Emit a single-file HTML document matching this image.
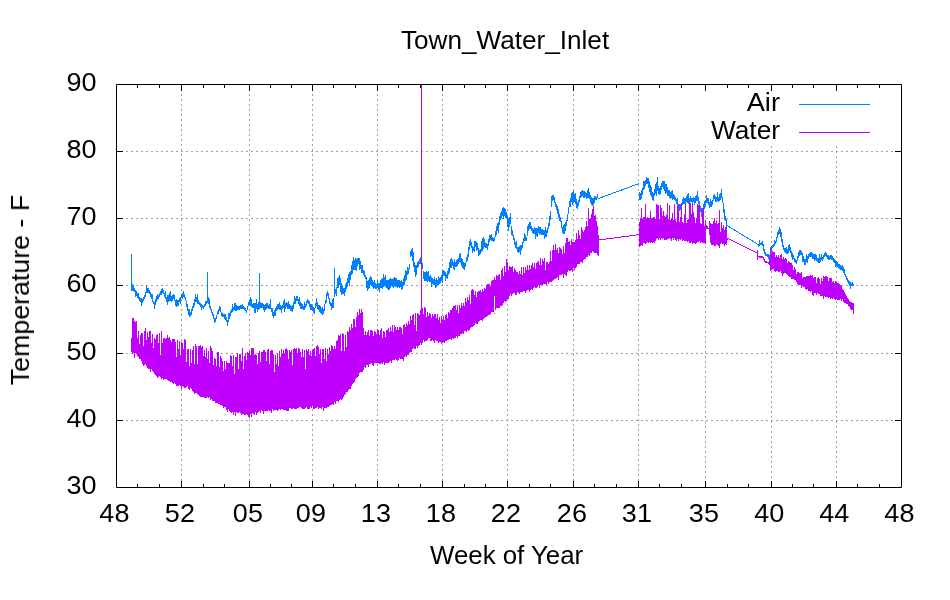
<!DOCTYPE html>
<html><head><meta charset="utf-8"><title>Town_Water_Inlet</title>
<style>
html,body{margin:0;padding:0;background:#fff;width:950px;height:600px;overflow:hidden}
svg{display:block}
text{font-family:"Liberation Sans",sans-serif;fill:#000}
</style></head><body>
<svg width="950" height="600" viewBox="0 0 950 600">
<rect width="950" height="600" fill="#fff"/>
<!-- grid -->
<g stroke="#a0a0a0" stroke-width="1" stroke-dasharray="2 3" fill="none">
<path d="M116 151.5H901M116 218.5H901M116 285.5H901M116 353.5H901M116 420.5H901"/>
<path d="M181.5 486V84M249.5 486V84M312.5 486V84M377.5 486V84M442.5 486V84M507.5 486V84M573.5 486V84M638.5 486V84M705.5 146V487M771.5 146V487M836.5 146V487"/>
</g>
<!-- DATA -->
<g id="data" fill="none" stroke-width="1">
<path stroke="#0080ff" shape-rendering="crispEdges" d="M131.5 282.6V291.1M132.5 284.2V290.6M133.5 284.8V291.0M134.5 288.4V292.4M135.5 289.6V296.5M136.5 290.9V295.6M137.5 292.9V298.1M138.5 292.6V299.0M139.5 296.5V300.8M140.5 297.9V302.3M141.5 298.1V306.3M142.5 298.5V303.1M143.5 296.8V301.3M144.5 295.1V299.4M145.5 292.4V296.5M146.5 284.8V292.9M147.5 287.6V293.0M148.5 287.9V292.5M149.5 289.6V293.5M150.5 291.9V296.7M151.5 294.4V299.4M152.5 294.4V302.2M153.5 300.5V304.4M154.5 302.2V309.4M155.5 299.0V304.7M156.5 296.1V301.5M157.5 294.3V300.2M158.5 294.9V298.7M159.5 293.3V297.4M160.5 290.7V294.7M161.5 288.5V294.5M162.5 288.4V293.2M163.5 289.6V294.1M164.5 293.2V296.8M165.5 291.2V298.9M166.5 297.4V301.8M167.5 295.3V305.2M168.5 294.6V302.0M169.5 292.6V301.4M170.5 290.6V300.9M171.5 295.8V301.9M172.5 294.6V300.5M173.5 294.3V298.5M174.5 295.3V300.9M175.5 299.9V306.2M176.5 298.6V306.5M177.5 299.9V305.8M178.5 299.9V306.3M179.5 297.8V302.2M180.5 296.5V303.8M181.5 294.7V298.1M182.5 293.2V299.3M183.5 291.3V297.0M184.5 294.0V298.3M185.5 297.0V300.8M186.5 301.1V306.6M187.5 304.3V310.6M188.5 309.4V314.5M189.5 308.9V316.8M190.5 312.3V316.4M191.5 308.8V314.6M192.5 305.6V310.8M193.5 302.7V308.3M194.5 299.1V305.6M195.5 294.3V302.2M196.5 297.1V302.0M197.5 294.3V303.5M198.5 300.3V304.1M199.5 302.0V305.2M200.5 303.2V307.0M201.5 303.9V309.6M202.5 304.6V308.1M203.5 305.5V308.6M204.5 304.1V307.0M205.5 300.8V305.9M206.5 300.5V304.3M207.5 298.3V303.4M208.5 296.6V303.5M209.5 298.9V308.1M210.5 306.1V310.2M211.5 308.8V312.6M212.5 311.8V315.7M213.5 314.4V318.8M214.5 317.5V323.2M215.5 317.6V321.7M216.5 315.4V319.1M217.5 311.1V315.0M218.5 309.0V313.9M219.5 306.3V310.7M220.5 307.2V312.3M221.5 312.3V316.4M222.5 313.3V316.5M223.5 313.8V317.2M224.5 313.5V318.7M225.5 314.1V320.1M226.5 316.6V322.3M227.5 320.2V326.2M228.5 313.2V321.6M229.5 312.6V318.5M230.5 311.0V315.8M231.5 309.1V312.8M232.5 303.8V311.9M233.5 306.5V310.8M234.5 303.4V310.4M235.5 302.8V310.6M236.5 305.4V310.6M237.5 305.7V310.4M238.5 305.6V310.2M239.5 305.5V309.8M240.5 305.2V309.1M241.5 305.1V309.0M242.5 303.6V309.0M243.5 305.6V308.9M244.5 307.0V309.8M245.5 308.2V310.7M246.5 309.7V313.3M247.5 305.7V309.8M248.5 301.9V306.4M249.5 300.0V305.4M250.5 296.6V305.8M251.5 298.6V307.1M252.5 303.6V307.5M253.5 303.0V308.4M254.5 302.9V312.6M255.5 303.1V312.7M256.5 298.9V308.7M257.5 304.0V311.9M258.5 302.4V309.8M259.5 301.4V309.3M260.5 301.7V308.4M261.5 302.5V307.8M262.5 302.5V307.6M263.5 303.9V309.5M264.5 304.8V311.6M265.5 304.3V309.9M266.5 302.9V309.3M267.5 303.1V308.2M268.5 304.7V308.7M269.5 303.8V309.4M270.5 298.6V308.8M271.5 307.5V312.3M272.5 307.7V316.2M273.5 312.2V318.0M274.5 309.9V315.7M275.5 308.1V316.2M276.5 306.1V310.8M277.5 304.0V309.5M278.5 304.2V309.0M279.5 301.6V309.9M280.5 304.5V309.8M281.5 305.7V312.9M282.5 304.6V309.2M283.5 300.6V308.3M284.5 299.3V312.1M285.5 303.1V308.6M286.5 302.1V307.1M287.5 302.7V309.2M288.5 301.0V308.7M289.5 303.6V309.0M290.5 305.1V310.8M291.5 305.8V311.4M292.5 305.0V311.7M293.5 301.5V308.9M294.5 296.0V304.2M295.5 297.6V303.7M296.5 295.5V300.7M297.5 295.5V301.2M298.5 299.4V303.9M299.5 297.2V306.3M300.5 301.5V308.8M301.5 302.8V308.6M302.5 304.4V308.7M303.5 305.8V310.1M304.5 302.4V309.9M305.5 303.5V307.5M306.5 301.3V306.3M307.5 298.7V303.4M308.5 299.6V304.4M309.5 301.3V306.8M310.5 303.7V310.2M311.5 304.4V309.6M312.5 305.5V310.6M313.5 306.8V313.0M314.5 307.5V313.6M315.5 302.7V308.1M316.5 297.6V305.5M317.5 302.4V308.5M318.5 304.6V309.7M319.5 305.0V311.8M320.5 305.6V312.5M321.5 308.0V314.3M322.5 307.2V315.4M323.5 308.6V313.8M324.5 304.3V310.5M325.5 299.5V304.1M326.5 292.8V303.2M327.5 290.8V296.1M328.5 293.1V298.7M329.5 298.4V303.9M330.5 301.9V305.6M331.5 303.3V309.7M332.5 299.2V308.3M333.5 298.2V308.4M334.5 287.4V297.1M335.5 288.7V294.0M336.5 286.8V296.4M337.5 277.6V287.9M338.5 276.9V287.8M339.5 274.9V284.9M340.5 277.7V292.1M341.5 283.1V295.1M342.5 286.1V293.9M343.5 288.4V293.7M344.5 288.1V296.0M345.5 283.5V291.8M346.5 281.7V289.3M347.5 277.8V287.2M348.5 274.0V283.0M349.5 272.3V286.1M350.5 270.5V279.8M351.5 264.6V275.1M352.5 260.9V273.5M353.5 256.6V270.0M354.5 260.4V269.6M355.5 258.3V269.9M356.5 259.1V270.6M357.5 257.6V265.8M358.5 258.1V263.8M359.5 257.5V269.8M360.5 261.0V268.5M361.5 265.2V273.0M362.5 264.8V273.2M363.5 270.4V274.9M364.5 271.0V277.4M365.5 274.6V279.2M366.5 276.8V287.6M367.5 280.7V290.8M368.5 280.2V288.7M369.5 278.1V287.6M370.5 276.0V284.8M371.5 277.4V286.4M372.5 280.0V287.3M373.5 281.9V289.0M374.5 279.7V287.8M375.5 282.5V289.1M376.5 284.1V288.7M377.5 280.2V288.2M378.5 282.7V289.5M379.5 282.6V291.9M380.5 280.0V288.4M381.5 278.6V288.0M382.5 278.2V289.2M383.5 274.2V286.5M384.5 277.4V286.0M385.5 275.0V287.0M386.5 280.0V288.3M387.5 279.7V288.8M388.5 280.0V289.5M389.5 279.4V289.6M390.5 277.5V288.2M391.5 279.2V286.0M392.5 278.7V287.0M393.5 278.3V288.1M394.5 277.1V285.8M395.5 278.4V287.2M396.5 278.3V286.7M397.5 279.6V287.8M398.5 279.8V286.9M399.5 280.4V288.0M400.5 281.0V287.2M401.5 279.9V290.0M402.5 282.2V289.2M403.5 278.2V285.7M404.5 274.7V285.0M405.5 270.3V281.1M406.5 270.5V280.0M407.5 267.1V275.1M408.5 267.5V273.9M409.5 264.2V269.1M410.5 250.8V257.2M411.5 249.4V255.6M412.5 247.7V261.1M413.5 252.1V266.6M414.5 262.3V271.6M415.5 264.5V276.7M416.5 265.4V275.2M417.5 261.9V268.4M418.5 260.8V266.7M419.5 259.0V264.4M420.5 257.3V263.7M421.5 253.5V265.4M422.5 263.0V269.0M423.5 270.5V278.7M424.5 272.2V281.1M425.5 272.3V280.7M426.5 270.6V281.3M427.5 271.6V281.7M428.5 270.8V281.0M429.5 276.3V281.6M430.5 275.0V282.0M431.5 277.1V286.8M432.5 278.0V284.4M433.5 278.7V285.2M434.5 276.7V285.2M435.5 279.5V288.4M436.5 278.4V286.7M437.5 279.8V284.5M438.5 275.6V285.1M439.5 277.6V284.4M440.5 276.8V282.6M441.5 275.3V280.8M442.5 270.9V282.6M443.5 270.1V275.7M444.5 270.8V276.0M445.5 272.2V280.9M446.5 274.2V278.0M447.5 271.1V278.7M448.5 267.8V274.9M449.5 261.7V272.6M450.5 258.9V268.3M451.5 258.0V267.5M452.5 259.7V265.7M453.5 262.1V269.3M454.5 259.1V270.2M455.5 261.8V267.0M456.5 259.9V266.7M457.5 259.4V265.9M458.5 258.2V264.0M459.5 253.8V261.5M460.5 252.9V263.0M461.5 257.5V265.8M462.5 258.8V267.5M463.5 262.0V268.6M464.5 262.9V269.7M465.5 261.7V267.1M466.5 256.6V262.3M467.5 254.2V260.6M468.5 247.2V256.9M469.5 240.9V249.5M470.5 239.1V245.6M471.5 241.9V247.6M472.5 245.8V252.6M473.5 247.0V251.4M474.5 240.9V252.3M475.5 241.4V246.5M476.5 241.8V251.3M477.5 243.2V250.2M478.5 248.1V255.5M479.5 250.2V255.2M480.5 249.2V254.2M481.5 240.5V251.8M482.5 238.4V250.9M483.5 237.0V248.7M484.5 238.7V246.6M485.5 242.5V248.1M486.5 243.0V248.1M487.5 244.0V250.1M488.5 238.9V246.2M489.5 234.7V242.3M490.5 234.6V239.5M491.5 233.8V240.5M492.5 236.5V241.1M493.5 237.5V242.3M494.5 236.9V241.0M495.5 231.0V237.1M496.5 225.7V234.9M497.5 223.2V231.2M498.5 221.7V232.9M499.5 216.0V225.2M500.5 213.2V219.9M501.5 211.2V217.6M502.5 207.8V216.0M503.5 206.8V219.3M504.5 207.7V216.1M505.5 209.4V217.5M506.5 211.6V218.4M507.5 216.0V226.5M508.5 217.9V231.1M509.5 216.8V227.3M510.5 212.6V223.7M511.5 225.5V235.1M512.5 230.1V236.2M513.5 234.9V240.4M514.5 238.2V244.5M515.5 241.5V248.1M516.5 241.2V249.0M517.5 246.5V252.0M518.5 247.3V253.0M519.5 246.2V252.2M520.5 245.1V255.3M521.5 244.6V250.2M522.5 241.8V247.8M523.5 237.7V243.4M524.5 233.1V241.1M525.5 235.3V241.3M526.5 236.7V240.6M527.5 226.4V235.6M528.5 223.8V231.0M529.5 222.1V229.4M530.5 222.0V229.1M531.5 225.9V230.7M532.5 228.3V232.9M533.5 228.5V234.2M534.5 227.0V234.0M535.5 228.2V238.6M536.5 228.1V235.9M537.5 228.4V236.8M538.5 225.9V232.8M539.5 226.8V234.9M540.5 226.6V234.1M541.5 228.7V234.7M542.5 228.8V234.7M543.5 229.7V234.8M544.5 230.4V239.4M545.5 227.1V237.3M546.5 230.1V237.4M547.5 228.1V233.2M548.5 223.3V228.7M549.5 215.6V226.0M550.5 210.6V220.3M551.5 196.1V207.3M552.5 194.7V200.6M553.5 194.6V200.2M554.5 197.3V202.6M555.5 201.8V206.7M556.5 204.4V210.2M557.5 206.3V214.1M558.5 209.3V217.8M559.5 213.7V220.6M560.5 216.8V222.4M561.5 220.9V228.0M562.5 226.9V232.6M563.5 225.4V233.6M564.5 223.5V234.1M565.5 221.7V230.9M566.5 219.5V226.1M567.5 213.9V220.9M568.5 207.0V214.3M569.5 200.9V207.4M570.5 197.8V207.1M571.5 193.1V202.2M572.5 192.3V204.8M573.5 189.5V202.6M574.5 194.4V202.0M575.5 192.6V204.2M576.5 198.6V207.7M577.5 201.5V209.2M578.5 200.2V205.9M579.5 195.5V202.0M580.5 192.2V197.9M581.5 191.0V197.4M582.5 189.6V196.3M583.5 190.8V197.9M584.5 191.3V198.2M585.5 191.9V197.4M586.5 192.5V198.8M587.5 190.1V198.3M588.5 188.1V197.9M589.5 191.9V198.8M590.5 195.0V203.1M591.5 197.4V204.5M592.5 198.4V206.3M593.5 197.9V205.4M594.5 195.5V202.7M595.5 195.6V200.3M596.5 196.6V199.6M597.5 194.3V198.1M598.5 198.1V199.1M638.5 182.7V183.9M639.5 192.1V199.9M640.5 192.6V200.1M641.5 190.4V199.2M642.5 187.7V194.6M643.5 181.3V189.8M644.5 180.9V188.6M645.5 180.4V186.0M646.5 176.5V183.9M647.5 177.8V183.8M648.5 178.4V188.4M649.5 180.5V192.1M650.5 185.1V195.2M651.5 187.3V196.6M652.5 192.2V200.0M653.5 192.8V200.7M654.5 189.0V196.1M655.5 184.3V193.5M656.5 182.2V195.7M657.5 177.2V191.1M658.5 186.1V194.0M659.5 187.5V195.2M660.5 186.0V193.9M661.5 183.3V189.6M662.5 180.6V187.1M663.5 180.6V189.1M664.5 180.7V191.3M665.5 183.9V194.2M666.5 183.8V192.7M667.5 187.4V195.6M668.5 189.7V196.1M669.5 190.2V198.0M670.5 192.3V198.7M671.5 191.4V198.3M672.5 190.0V199.5M673.5 194.3V199.1M674.5 194.6V200.1M675.5 196.7V201.4M676.5 198.7V203.5M677.5 198.4V208.1M678.5 204.0V212.3M679.5 204.2V210.5M680.5 203.6V210.2M681.5 203.2V207.8M682.5 199.3V204.8M683.5 197.3V203.6M684.5 197.9V203.7M685.5 197.9V205.6M686.5 196.1V202.4M687.5 193.7V202.5M688.5 192.6V203.8M689.5 198.4V204.8M690.5 196.0V202.3M691.5 198.2V202.3M692.5 197.6V203.2M693.5 196.6V201.7M694.5 197.5V205.1M695.5 195.8V203.4M696.5 195.4V201.2M697.5 190.6V201.0M698.5 197.2V203.7M699.5 201.1V207.3M700.5 205.9V212.0M701.5 207.9V217.2M702.5 208.1V218.1M703.5 204.2V211.1M704.5 201.1V208.7M705.5 199.5V206.1M706.5 195.3V203.1M707.5 197.8V203.3M708.5 197.7V205.2M709.5 201.7V207.7M710.5 199.0V206.6M711.5 200.5V206.8M712.5 200.1V204.9M713.5 195.3V201.4M714.5 194.0V199.1M715.5 195.9V201.8M716.5 196.7V202.3M717.5 192.3V201.2M718.5 196.6V202.3M719.5 193.9V201.1M720.5 193.1V200.4M721.5 189.2V198.3M722.5 196.8V203.1M723.5 202.8V213.3M724.5 209.0V220.0M725.5 215.8V220.8M726.5 219.4V228.9M757.5 243.8V244.8M758.5 244.1V246.7M759.5 239.8V246.4M760.5 243.0V245.4M761.5 241.8V245.1M762.5 241.1V246.1M763.5 244.4V250.6M764.5 249.4V253.8M765.5 252.3V255.5M766.5 253.6V256.2M767.5 254.0V257.3M768.5 254.4V258.8M769.5 255.2V260.3M770.5 246.6V255.6M771.5 245.9V252.1M772.5 244.5V248.0M773.5 243.6V247.2M774.5 239.7V245.8M775.5 241.2V244.2M776.5 236.6V242.4M777.5 232.3V238.1M778.5 229.6V235.1M779.5 227.4V233.8M780.5 229.2V236.6M781.5 231.6V241.5M782.5 239.3V246.5M783.5 245.2V250.3M784.5 247.6V252.0M785.5 248.0V253.2M786.5 247.1V253.5M787.5 248.8V253.8M788.5 244.9V252.5M789.5 244.3V251.1M790.5 246.6V253.3M791.5 250.5V256.9M792.5 252.7V259.7M793.5 255.0V259.2M794.5 258.0V261.5M795.5 258.7V263.4M796.5 259.7V263.7M797.5 256.1V261.1M798.5 252.4V258.0M799.5 250.4V255.8M800.5 250.4V254.8M801.5 250.9V255.3M802.5 252.9V261.9M803.5 256.2V261.8M804.5 258.7V264.6M805.5 259.0V264.7M806.5 254.3V262.3M807.5 256.3V262.6M808.5 253.7V258.9M809.5 253.4V257.0M810.5 252.4V257.2M811.5 252.3V257.3M812.5 252.6V258.9M813.5 253.9V259.3M814.5 254.0V260.8M815.5 254.1V260.3M816.5 254.8V261.3M817.5 257.6V262.2M818.5 257.7V262.5M819.5 254.3V263.0M820.5 256.8V262.1M821.5 254.0V260.2M822.5 256.7V261.3M823.5 254.7V258.5M824.5 253.2V256.8M825.5 251.6V255.5M826.5 252.5V257.3M827.5 254.7V259.4M828.5 255.2V259.7M829.5 256.4V260.1M830.5 255.3V259.3M831.5 255.3V259.6M832.5 256.2V260.2M833.5 257.9V262.2M834.5 258.8V263.0M835.5 260.1V266.7M836.5 260.7V266.4M837.5 261.6V266.9M838.5 263.6V268.0M839.5 263.7V268.8M840.5 264.5V269.8M841.5 265.7V269.9M842.5 265.1V271.2M843.5 266.5V273.0M844.5 269.2V274.8M845.5 273.5V277.1M846.5 275.6V280.4M847.5 278.3V282.4M848.5 280.3V284.4M849.5 281.0V285.5M850.5 281.9V288.9M851.5 282.5V286.2M852.5 282.4V285.7M853.5 284.3V285.6M598.4 198.5L638.7 183.7M726.7 225.3L757.3 244.0M131.5 254.3V283.0M207.5 272.3V300.0M259.5 273.0V305.0M334.5 268.0V290.0"/>
<path stroke="#c000ff" shape-rendering="crispEdges" d="M131.5 338.4V352.3M132.5 317.7V353.5M133.5 317.7V352.5M134.5 321.0V358.0M135.5 321.9V353.0M136.5 320.9V354.0M137.5 337.6V355.5M138.5 330.5V356.9M139.5 344.2V359.0M140.5 335.4V358.9M141.5 333.1V360.7M142.5 333.2V364.0M143.5 346.3V365.7M144.5 330.5V365.2M145.5 328.4V364.0M146.5 339.8V366.4M147.5 332.1V368.4M148.5 337.1V368.9M149.5 331.3V368.7M150.5 331.0V371.9M151.5 342.9V369.4M152.5 333.9V371.3M153.5 347.5V371.7M154.5 338.0V373.7M155.5 339.1V374.8M156.5 335.3V376.1M157.5 334.0V377.7M158.5 343.1V376.7M159.5 332.9V375.9M160.5 354.5V377.0M161.5 330.7V378.8M162.5 342.7V377.7M163.5 338.0V380.1M164.5 337.9V378.9M165.5 338.7V378.8M166.5 337.7V379.0M167.5 335.1V379.9M168.5 338.3V380.6M169.5 337.4V381.3M170.5 340.4V381.7M171.5 342.1V381.5M172.5 339.0V383.2M173.5 339.0V383.6M174.5 339.1V382.6M175.5 341.8V384.1M176.5 357.2V385.7M177.5 340.4V385.6M178.5 349.1V385.5M179.5 340.7V385.1M180.5 355.2V385.5M181.5 342.4V388.8M182.5 343.2V386.3M183.5 348.8V387.1M184.5 338.7V388.0M185.5 339.6V388.1M186.5 362.1V387.4M187.5 348.8V385.8M188.5 349.3V388.8M189.5 365.5V389.8M190.5 349.3V388.4M191.5 363.1V389.1M192.5 350.3V390.6M193.5 346.1V392.3M194.5 364.1V393.8M195.5 343.9V393.4M196.5 346.2V393.4M197.5 363.5V394.0M198.5 345.7V395.2M199.5 346.1V395.5M200.5 345.2V396.5M201.5 346.9V396.5M202.5 345.6V396.7M203.5 356.4V397.3M204.5 349.7V398.0M205.5 357.3V398.0M206.5 347.9V397.6M207.5 359.4V396.9M208.5 351.2V398.3M209.5 362.7V397.4M210.5 346.1V399.8M211.5 348.3V398.5M212.5 351.4V401.1M213.5 364.9V401.4M214.5 358.4V400.6M215.5 358.9V403.1M216.5 365.6V402.6M217.5 352.1V402.5M218.5 352.4V404.0M219.5 366.9V403.6M220.5 356.4V405.0M221.5 358.3V405.2M222.5 360.9V406.3M223.5 370.9V408.2M224.5 361.1V407.1M225.5 369.1V407.3M226.5 361.3V410.0M227.5 363.1V411.5M228.5 362.5V408.7M229.5 362.6V410.7M230.5 354.8V412.4M231.5 356.3V413.4M232.5 366.0V411.8M233.5 355.3V415.3M234.5 373.7V411.7M235.5 356.7V415.9M236.5 357.0V412.3M237.5 353.4V413.2M238.5 369.0V412.7M239.5 354.2V412.4M240.5 353.9V413.0M241.5 361.0V414.5M242.5 348.4V413.8M243.5 368.6V413.6M244.5 355.5V414.8M245.5 353.2V414.8M246.5 359.7V414.3M247.5 352.1V415.2M248.5 353.2V416.8M249.5 351.2V418.1M250.5 354.9V414.3M251.5 348.1V416.5M252.5 348.4V412.8M253.5 347.8V413.9M254.5 354.5V414.5M255.5 353.7V411.5M256.5 354.7V414.8M257.5 363.5V413.4M258.5 352.6V412.1M259.5 351.3V410.7M260.5 361.9V412.7M261.5 351.8V410.2M262.5 352.0V411.2M263.5 349.8V413.9M264.5 350.0V411.0M265.5 351.7V410.7M266.5 361.2V411.4M267.5 350.0V410.6M268.5 349.2V409.8M269.5 363.7V410.5M270.5 350.7V411.4M271.5 349.9V413.1M272.5 350.4V409.4M273.5 354.0V411.2M274.5 371.7V410.1M275.5 355.1V409.7M276.5 363.9V410.3M277.5 352.5V411.2M278.5 366.4V409.7M279.5 350.6V409.2M280.5 356.7V410.3M281.5 348.9V409.3M282.5 354.4V409.4M283.5 350.1V409.7M284.5 352.8V409.9M285.5 348.7V409.9M286.5 347.8V410.9M287.5 350.2V410.5M288.5 359.2V410.9M289.5 349.8V408.4M290.5 351.8V408.3M291.5 350.3V408.7M292.5 365.1V408.8M293.5 349.0V408.0M294.5 348.2V409.0M295.5 349.0V409.1M296.5 348.0V408.6M297.5 353.3V407.9M298.5 347.6V407.5M299.5 349.2V407.0M300.5 351.5V406.9M301.5 357.0V407.6M302.5 348.6V408.5M303.5 356.6V409.4M304.5 349.9V408.7M305.5 369.0V408.4M306.5 348.8V407.1M307.5 351.0V408.8M308.5 349.2V409.1M309.5 355.4V409.0M310.5 350.7V406.9M311.5 356.3V407.6M312.5 350.1V406.4M313.5 348.5V408.6M314.5 347.5V408.5M315.5 356.0V408.2M316.5 345.8V407.8M317.5 344.7V407.3M318.5 347.3V409.0M319.5 354.0V408.4M320.5 348.6V407.5M321.5 363.1V408.5M322.5 349.1V407.2M323.5 348.7V411.3M324.5 358.6V407.5M325.5 347.5V407.6M326.5 361.0V408.0M327.5 349.4V407.4M328.5 354.1V406.7M329.5 347.1V406.0M330.5 350.7V405.3M331.5 345.4V405.2M332.5 346.2V403.9M333.5 349.2V405.1M334.5 346.0V402.1M335.5 349.1V403.9M336.5 341.3V401.2M337.5 339.5V401.1M338.5 335.0V402.1M339.5 335.8V399.5M340.5 334.2V398.5M341.5 350.9V399.6M342.5 332.9V399.1M343.5 334.0V396.7M344.5 351.4V395.4M345.5 335.0V394.3M346.5 347.0V391.9M347.5 330.7V391.8M348.5 332.1V389.9M349.5 326.9V389.3M350.5 330.2V388.8M351.5 324.0V386.4M352.5 328.3V384.0M353.5 319.2V383.1M354.5 318.6V382.2M355.5 326.6V379.3M356.5 317.0V378.1M357.5 311.8V376.5M358.5 314.6V376.1M359.5 309.0V373.3M360.5 313.0V372.1M361.5 309.2V371.7M362.5 311.9V372.0M363.5 328.4V370.1M364.5 335.0V367.0M365.5 330.6V367.9M366.5 334.5V364.7M367.5 331.5V364.9M368.5 330.3V366.7M369.5 336.2V363.5M370.5 330.3V363.5M371.5 329.7V363.4M372.5 331.1V364.6M373.5 336.3V365.7M374.5 330.7V363.3M375.5 331.5V363.2M376.5 334.3V362.9M377.5 328.7V363.2M378.5 330.4V362.8M379.5 335.0V363.8M380.5 329.9V363.6M381.5 328.3V363.0M382.5 338.0V363.6M383.5 330.9V362.0M384.5 332.1V364.9M385.5 336.5V362.9M386.5 329.6V363.2M387.5 330.1V362.5M388.5 328.2V362.7M389.5 332.1V362.4M390.5 327.2V361.2M391.5 331.0V363.1M392.5 325.3V359.6M393.5 332.0V359.9M394.5 325.1V360.2M395.5 327.4V358.9M396.5 329.9V359.8M397.5 327.0V360.6M398.5 330.0V359.7M399.5 326.9V358.3M400.5 327.1V359.1M401.5 328.2V358.9M402.5 334.2V358.9M403.5 325.4V361.3M404.5 323.8V357.1M405.5 326.5V355.6M406.5 322.6V357.2M407.5 324.5V355.2M408.5 320.7V355.4M409.5 323.9V352.7M410.5 316.2V351.8M411.5 319.9V351.9M412.5 314.9V349.4M413.5 314.0V348.3M414.5 324.7V349.0M415.5 312.9V348.6M416.5 330.6V345.5M417.5 312.9V348.2M418.5 314.1V345.7M419.5 315.2V345.3M420.5 309.7V343.4M421.5 309.5V343.1M422.5 307.8V342.9M423.5 313.6V340.2M424.5 307.3V341.6M425.5 308.1V341.4M426.5 317.0V340.8M427.5 312.3V340.4M428.5 316.0V338.3M429.5 313.0V338.3M430.5 314.3V340.5M431.5 317.9V340.6M432.5 314.0V339.7M433.5 315.8V340.8M434.5 314.4V343.1M435.5 314.2V340.0M436.5 317.9V341.0M437.5 314.3V341.4M438.5 320.2V342.5M439.5 316.8V342.3M440.5 323.3V341.7M441.5 315.5V343.5M442.5 320.4V342.8M443.5 315.5V342.1M444.5 320.0V342.6M445.5 314.5V340.7M446.5 313.9V340.8M447.5 317.8V340.2M448.5 312.0V339.9M449.5 313.0V339.4M450.5 310.2V339.1M451.5 310.1V340.3M452.5 308.2V338.3M453.5 305.5V339.1M454.5 305.8V337.7M455.5 304.8V338.2M456.5 310.3V336.1M457.5 304.5V337.6M458.5 313.2V335.7M459.5 304.8V336.3M460.5 307.8V334.0M461.5 303.1V334.4M462.5 306.1V333.1M463.5 302.6V333.9M464.5 306.0V331.2M465.5 298.4V331.0M466.5 301.8V331.7M467.5 296.8V330.3M468.5 299.9V331.2M469.5 294.5V329.6M470.5 304.3V328.2M471.5 290.0V327.3M472.5 289.3V327.1M473.5 289.7V325.7M474.5 295.0V324.6M475.5 291.1V322.9M476.5 297.2V324.4M477.5 292.1V323.8M478.5 291.1V321.6M479.5 290.5V321.0M480.5 289.9V320.1M481.5 292.3V319.9M482.5 288.5V320.8M483.5 290.5V318.5M484.5 287.5V317.9M485.5 289.0V316.9M486.5 284.9V317.3M487.5 283.8V315.7M488.5 283.5V315.0M489.5 283.7V315.1M490.5 286.1V313.6M491.5 281.4V312.1M492.5 279.9V311.5M493.5 279.5V312.1M494.5 276.7V314.2M495.5 280.3V309.9M496.5 275.3V307.9M497.5 275.5V308.1M498.5 275.2V308.1M499.5 273.8V307.5M500.5 279.9V305.6M501.5 270.3V305.8M502.5 268.4V304.9M503.5 276.4V303.4M504.5 265.9V300.9M505.5 271.8V301.5M506.5 259.4V301.1M507.5 262.3V299.1M508.5 270.2V298.6M509.5 265.9V295.6M510.5 267.1V294.3M511.5 266.8V295.9M512.5 266.4V294.2M513.5 271.7V293.4M514.5 267.8V292.5M515.5 270.0V295.2M516.5 272.1V294.5M517.5 271.8V292.3M518.5 273.5V293.3M519.5 270.6V293.6M520.5 274.4V291.5M521.5 267.2V292.1M522.5 274.8V291.9M523.5 267.3V290.9M524.5 272.7V291.3M525.5 266.8V292.6M526.5 270.0V291.1M527.5 264.9V289.8M528.5 269.8V290.2M529.5 265.1V291.8M530.5 269.1V289.8M531.5 264.9V288.8M532.5 263.3V289.8M533.5 267.4V287.6M534.5 262.7V287.4M535.5 268.9V288.3M536.5 262.8V288.2M537.5 261.9V286.9M538.5 261.2V285.2M539.5 264.7V287.5M540.5 258.2V284.9M541.5 264.9V285.1M542.5 259.4V285.1M543.5 260.6V283.8M544.5 258.4V284.3M545.5 270.1V284.0M546.5 261.8V284.7M547.5 261.8V282.4M548.5 264.4V284.0M549.5 261.7V281.5M550.5 251.3V282.1M551.5 261.2V281.8M552.5 250.0V280.6M553.5 245.1V280.4M554.5 250.4V279.0M555.5 244.3V279.3M556.5 249.5V277.7M557.5 247.6V277.1M558.5 253.1V279.5M559.5 247.3V275.4M560.5 248.2V275.4M561.5 249.2V274.7M562.5 254.4V274.2M563.5 245.9V277.6M564.5 252.9V273.8M565.5 243.2V274.9M566.5 237.7V275.8M567.5 238.3V271.7M568.5 241.7V270.4M569.5 240.8V270.6M570.5 244.8V271.0M571.5 239.4V270.4M572.5 241.7V271.9M573.5 242.0V268.3M574.5 241.8V269.9M575.5 240.1V268.0M576.5 232.5V266.9M577.5 239.2V264.4M578.5 230.2V264.4M579.5 234.7V264.0M580.5 238.7V262.0M581.5 227.1V262.4M582.5 229.9V262.8M583.5 232.1V260.0M584.5 229.6V258.8M585.5 227.0V258.7M586.5 221.3V257.0M587.5 225.9V257.0M588.5 208.3V254.7M589.5 219.0V256.2M590.5 217.9V252.5M591.5 213.9V253.1M592.5 208.9V251.1M593.5 205.7V252.4M594.5 216.1V252.9M595.5 214.8V253.0M596.5 220.8V252.9M597.5 225.9V254.9M598.5 235.3V256.1M638.5 234.0V235.3M639.5 221.8V246.6M640.5 218.3V246.4M641.5 207.8V245.4M642.5 219.3V246.2M643.5 217.1V243.4M644.5 216.9V242.5M645.5 204.2V244.3M646.5 218.8V242.9M647.5 216.8V242.3M648.5 217.5V242.6M649.5 217.8V242.2M650.5 210.7V242.9M651.5 217.5V241.8M652.5 217.5V242.9M653.5 216.7V242.1M654.5 216.7V242.5M655.5 219.0V241.3M656.5 204.1V238.6M657.5 205.1V238.2M658.5 205.0V240.0M659.5 218.9V238.3M660.5 204.9V240.2M661.5 208.3V238.0M662.5 216.3V238.8M663.5 211.2V238.0M664.5 216.1V239.7M665.5 216.8V239.7M666.5 215.4V240.3M667.5 203.2V238.9M668.5 218.8V239.2M669.5 204.8V237.9M670.5 220.3V239.1M671.5 218.1V241.1M672.5 213.3V237.7M673.5 220.4V239.5M674.5 204.0V237.6M675.5 218.8V240.0M676.5 222.3V240.7M677.5 204.6V239.2M678.5 204.5V240.6M679.5 221.7V238.6M680.5 217.1V239.6M681.5 203.4V238.5M682.5 221.7V240.6M683.5 223.1V240.0M684.5 214.4V240.9M685.5 203.5V240.7M686.5 222.6V241.0M687.5 220.4V242.2M688.5 218.7V241.3M689.5 203.0V242.7M690.5 202.6V243.3M691.5 213.6V241.9M692.5 203.4V244.2M693.5 212.0V242.8M694.5 217.0V242.5M695.5 223.0V243.7M696.5 218.2V243.4M697.5 204.0V241.5M698.5 204.7V242.2M699.5 205.3V241.4M700.5 223.1V242.9M701.5 223.8V242.0M702.5 210.4V243.1M703.5 208.4V243.0M704.5 225.6V243.2M705.5 220.3V244.2M706.5 225.1V229.3M707.5 225.5V229.3M708.5 228.3V229.3M709.5 220.6V234.8M710.5 222.8V243.3M711.5 224.1V245.1M712.5 223.5V245.4M713.5 220.9V244.6M714.5 217.9V246.1M715.5 222.6V245.8M716.5 220.4V244.3M717.5 223.6V245.0M718.5 223.2V245.8M719.5 210.0V247.6M720.5 231.9V244.4M721.5 222.4V243.1M722.5 228.3V244.3M723.5 224.8V244.0M724.5 230.0V245.8M725.5 227.3V244.1M726.5 229.0V244.8M727.5 239.0V240.0M757.5 249.5V260.3M758.5 256.0V257.4M759.5 256.0V257.5M760.5 256.0V257.7M761.5 256.0V257.8M762.5 256.0V258.0M763.5 257.2V260.1M764.5 259.0V261.8M765.5 260.8V262.8M766.5 261.2V263.2M767.5 261.8V263.3M768.5 262.2V263.8M769.5 260.3V265.3M770.5 247.8V271.1M771.5 253.2V270.1M772.5 250.5V268.8M773.5 251.9V269.4M774.5 251.9V271.0M775.5 256.7V272.0M776.5 254.5V271.2M777.5 257.1V270.6M778.5 254.8V271.8M779.5 258.1V271.8M780.5 254.8V271.4M781.5 254.2V272.7M782.5 258.7V276.4M783.5 257.2V274.0M784.5 259.2V273.3M785.5 257.9V273.1M786.5 259.2V274.2M787.5 262.5V275.2M788.5 261.2V275.9M789.5 261.9V277.4M790.5 262.7V277.3M791.5 262.6V278.6M792.5 265.0V278.9M793.5 269.6V278.7M794.5 267.0V280.2M795.5 269.0V280.0M796.5 274.3V282.1M797.5 271.6V283.7M798.5 271.8V284.7M799.5 273.3V285.3M800.5 272.9V284.9M801.5 271.6V287.9M802.5 277.8V286.4M803.5 276.6V287.2M804.5 276.9V287.4M805.5 277.2V288.8M806.5 276.2V290.4M807.5 276.0V289.1M808.5 275.8V291.4M809.5 275.5V291.1M810.5 274.8V292.3M811.5 276.4V291.4M812.5 274.6V295.2M813.5 277.9V296.1M814.5 276.6V292.8M815.5 276.7V292.9M816.5 282.6V294.8M817.5 277.5V293.1M818.5 276.8V293.8M819.5 278.5V293.6M820.5 283.6V295.8M821.5 277.6V296.0M822.5 281.4V296.0M823.5 276.4V299.0M824.5 277.0V295.7M825.5 275.7V297.2M826.5 276.4V296.7M827.5 277.0V296.7M828.5 280.9V297.6M829.5 277.5V297.3M830.5 277.8V298.6M831.5 277.9V298.4M832.5 282.1V298.7M833.5 280.7V298.0M834.5 282.6V299.0M835.5 281.0V299.5M836.5 282.4V298.6M837.5 282.8V299.6M838.5 283.2V299.5M839.5 283.8V300.3M840.5 284.8V299.1M841.5 286.4V301.3M842.5 288.9V299.4M843.5 290.2V301.8M844.5 291.7V303.3M845.5 293.7V303.1M846.5 295.7V303.7M847.5 297.7V304.1M848.5 299.4V305.9M849.5 300.8V307.0M850.5 301.8V308.5M851.5 302.4V309.8M852.5 302.9V310.4M853.5 303.3V313.5M598.4 240.0L638.7 234.7M727.3 238.3L757.3 253.1M421.5 84V345"/>
<path stroke="#fff" shape-rendering="crispEdges" d="M494.5 296V312.5"/>
</g>
<!-- key box -->
<rect x="700" y="90" width="180" height="56" fill="#fff"/>
<g stroke-width="1" fill="none">
<path d="M799 104.5H870" stroke="#0080ff"/>
<path d="M799 132.5H870" stroke="#c000ff"/>
</g>
<!-- frame & ticks -->
<g stroke="#000" stroke-width="1" fill="none">
<path d="M116.5 84.5H901.5V487.5H116.5Z"/>
<path d="M181.5 487v-6M181.5 85v6M249.5 487v-6M249.5 85v6M312.5 487v-6M312.5 85v6M377.5 487v-6M377.5 85v6M442.5 487v-6M442.5 85v6M507.5 487v-6M507.5 85v6M573.5 487v-6M573.5 85v6M638.5 487v-6M638.5 85v6M705.5 487v-6M705.5 85v6M771.5 487v-6M771.5 85v6M836.5 487v-6M836.5 85v6M137.5 487v-3M137.5 85v3M159.5 487v-3M159.5 85v3M203.5 487v-3M203.5 85v3M224.5 487v-3M224.5 85v3M270.5 487v-3M270.5 85v3M291.5 487v-3M291.5 85v3M333.5 487v-3M333.5 85v3M355.5 487v-3M355.5 85v3M398.5 487v-3M398.5 85v3M420.5 487v-3M420.5 85v3M464.5 487v-3M464.5 85v3M485.5 487v-3M485.5 85v3M529.5 487v-3M529.5 85v3M550.5 487v-3M550.5 85v3M594.5 487v-3M594.5 85v3M616.5 487v-3M616.5 85v3M659.5 487v-3M659.5 85v3M681.5 487v-3M681.5 85v3M727.5 487v-3M727.5 85v3M748.5 487v-3M748.5 85v3M792.5 487v-3M792.5 85v3M813.5 487v-3M813.5 85v3M857.5 487v-3M857.5 85v3M879.5 487v-3M879.5 85v3M116 151.5h7M902 151.5h-7M116 218.5h7M902 218.5h-7M116 285.5h7M902 285.5h-7M116 353.5h7M902 353.5h-7M116 420.5h7M902 420.5h-7"/>
</g>
<!-- labels -->
<g font-size="25.5" style="will-change:transform">
<text transform="translate(401 48.9) scale(1.025 1)">Town_Water_Inlet</text>
<text transform="translate(430 563.75) scale(1.013 1)">Week of Year</text>
<text transform="translate(780 111) scale(1.07 1)" text-anchor="end">Air</text>
<text transform="translate(780 138.9) scale(1.031 1)" text-anchor="end">Water</text>
<text transform="translate(29 290) rotate(-90) scale(1.05 1)" text-anchor="middle">Temperature - F</text>
<text transform="translate(96.6 90.9) scale(1.06 1)" text-anchor="end">90</text>
<text transform="translate(96.6 157.9) scale(1.06 1)" text-anchor="end">80</text>
<text transform="translate(96.6 224.9) scale(1.06 1)" text-anchor="end">70</text>
<text transform="translate(96.6 291.9) scale(1.06 1)" text-anchor="end">60</text>
<text transform="translate(96.6 359.9) scale(1.06 1)" text-anchor="end">50</text>
<text transform="translate(96.6 426.9) scale(1.06 1)" text-anchor="end">40</text>
<text transform="translate(96.6 493.9) scale(1.06 1)" text-anchor="end">30</text>
<text transform="translate(114.4 522) scale(1.06 1)" text-anchor="middle">48</text>
<text transform="translate(179.9 522) scale(1.06 1)" text-anchor="middle">52</text>
<text transform="translate(247.9 522) scale(1.06 1)" text-anchor="middle">05</text>
<text transform="translate(310.9 522) scale(1.06 1)" text-anchor="middle">09</text>
<text transform="translate(375.9 522) scale(1.06 1)" text-anchor="middle">13</text>
<text transform="translate(440.9 522) scale(1.06 1)" text-anchor="middle">18</text>
<text transform="translate(505.9 522) scale(1.06 1)" text-anchor="middle">22</text>
<text transform="translate(571.9 522) scale(1.06 1)" text-anchor="middle">26</text>
<text transform="translate(636.9 522) scale(1.06 1)" text-anchor="middle">31</text>
<text transform="translate(703.9 522) scale(1.06 1)" text-anchor="middle">35</text>
<text transform="translate(769.2 522) scale(1.06 1)" text-anchor="middle">40</text>
<text transform="translate(834.2 522) scale(1.06 1)" text-anchor="middle">44</text>
<text transform="translate(899.4 522) scale(1.06 1)" text-anchor="middle">48</text>
</g>
</svg>
</body></html>
